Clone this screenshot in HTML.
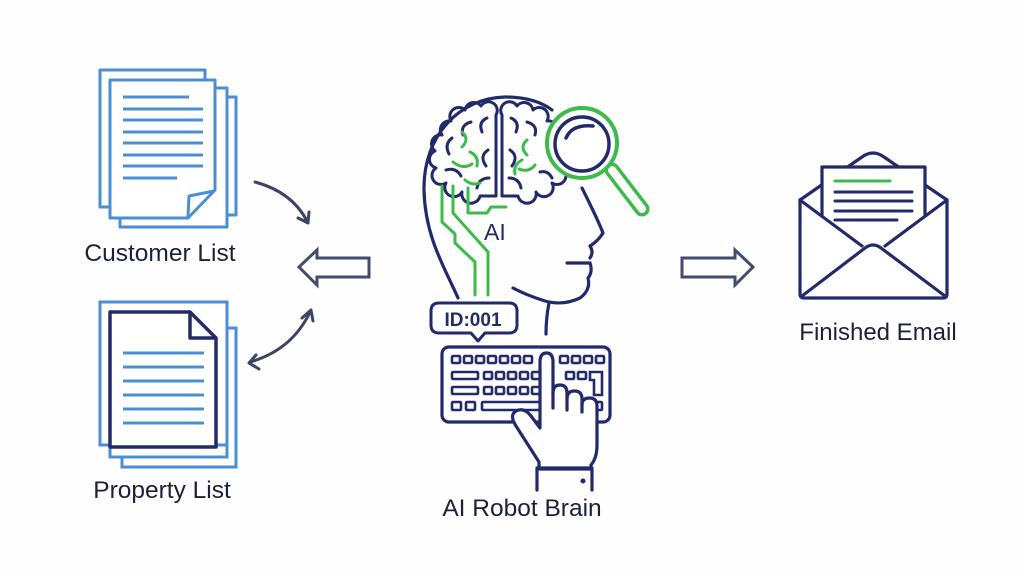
<!DOCTYPE html>
<html><head><meta charset="utf-8"><style>
html,body{margin:0;padding:0;background:#fff;}
svg{display:block;}
text{font-family:"Liberation Sans",sans-serif;}
</style></head><body>
<svg width="1024" height="576" viewBox="0 0 1024 576" xmlns="http://www.w3.org/2000/svg">
<rect width="1024" height="576" fill="#fefefe"/>

<!-- Customer List documents -->
<g fill="#fff" stroke="#4a8fd4" stroke-width="3" stroke-linejoin="round">
  <rect x="100" y="70" width="105" height="137"/>
  <rect x="132" y="97" width="104" height="118"/>
  <rect x="120" y="88" width="107" height="139"/>
  <path d="M110,80 H215 V190 L188,218 H110 Z"/>
  <path d="M188,217 L189,196 L214,191" fill="none"/>
</g>
<g stroke="#4a8fd4" stroke-width="3" stroke-linecap="butt">
  <line x1="123" y1="97" x2="189" y2="97"/>
  <line x1="123" y1="109" x2="203" y2="109"/>
  <line x1="123" y1="120" x2="203" y2="120"/>
  <line x1="123" y1="132" x2="203" y2="132"/>
  <line x1="123" y1="143" x2="203" y2="143"/>
  <line x1="123" y1="155" x2="203" y2="155"/>
  <line x1="123" y1="166" x2="203" y2="166"/>
  <line x1="123" y1="178" x2="177" y2="178"/>
</g>
<text x="160" y="261" font-size="24.5" fill="#1c2038" text-anchor="middle">Customer List</text>

<!-- Property List documents -->
<g fill="#fff" stroke="#4a8fd4" stroke-width="3">
  <rect x="122" y="328" width="114" height="139"/>
  <rect x="110" y="320" width="117" height="137"/>
  <rect x="100" y="302" width="127" height="143"/>
</g>
<g fill="#fff" stroke="#232a6b" stroke-width="3.5" stroke-linejoin="round">
  <path d="M110,312 H190 L216,338 V447 H110 Z"/>
  <path d="M190,312 V338 H216" fill="none"/>
</g>
<g stroke="#4a8fd4" stroke-width="3">
  <line x1="123" y1="353" x2="204" y2="353"/>
  <line x1="123" y1="367" x2="204" y2="367"/>
  <line x1="123" y1="381" x2="204" y2="381"/>
  <line x1="123" y1="395" x2="204" y2="395"/>
  <line x1="123" y1="409" x2="204" y2="409"/>
  <line x1="123" y1="423" x2="204" y2="423"/>
</g>
<text x="162" y="498" font-size="24.5" fill="#1c2038" text-anchor="middle">Property List</text>

<!-- curved arrows -->
<g fill="none" stroke="#3d4466" stroke-width="3" stroke-linecap="round" stroke-linejoin="round">
  <path d="M255,182 Q292,192 307,221"/>
  <path d="M298,218 L308,223 L309,212"/>
  <path d="M250,362 Q292,350 310,312"/>
  <path d="M302,318 L311,310 L313,321"/>
  <path d="M256,355 L249,363 L259,369"/>
</g>

<!-- hollow arrows -->
<g fill="#fff" stroke="#454b6c" stroke-width="3" stroke-linejoin="miter">
  <path d="M299,267 L317,250 V258 H369 V277 H317 V285 Z"/>
  <path d="M753,267 L735,250 V258 H682 V277 H735 V285 Z"/>
</g>

<!-- Head -->
<g fill="none" stroke="#232a6b" stroke-width="3.2" stroke-linecap="round" stroke-linejoin="round">
  <path d="M458,298 C446,270 425,238 424,190 C423,135 460,98 505,97 C524,97 540,101 552,110"/>
  <path d="M582,188 C590,204 598,220 603,233 Q598,241 590,246 Q594,252 590,258"/>
  <path d="M567,263 L590,263"/>
  <path d="M590,263 Q593,272 588,278 Q591,290 580,298 Q563,306 545,301 Q526,295 513,288"/>
  <path d="M549,303 Q546,318 546,334"/>
</g>

<!-- brain -->
<g fill="none" stroke="#232a6b" stroke-width="3" stroke-linecap="round" stroke-linejoin="round">
  <path d="M496,115 A8,8 0 0 0 481,106 A9,9 0 0 0 465,110 A9,9 0 0 0 451,121 A9,9 0 0 0 442,135 A9,9 0 0 0 435,151 A9,9 0 0 0 436,168 A9,9 0 0 0 446,183 A9,9 0 0 0 462,192 A9,9 0 0 0 480,196 L496,196 Z"/>
  <path d="M502,115 A8,8 0 0 1 517,106 A9,9 0 0 1 533,110 A9,9 0 0 1 547,121 A9,9 0 0 1 556,135 A9,9 0 0 1 563,151 A9,9 0 0 1 562,168 A9,9 0 0 1 552,183 A9,9 0 0 1 536,192 A9,9 0 0 1 518,196 L502,196 Z"/>
  <path d="M487,118 q-9,4 -5,14"/>
  <path d="M471,122 q-11,3 -8,13"/>
  <path d="M452,138 q-8,6 -3,16"/>
  <path d="M446,170 q10,-3 15,6"/>
  <path d="M488,150 q-9,6 -2,16"/>
  <path d="M489,178 q-10,0 -12,10"/>
  <path d="M511,118 q9,4 5,14"/>
  <path d="M527,122 q11,3 8,13"/>
  <path d="M510,150 q9,6 2,16"/>
  <path d="M509,178 q10,0 12,10"/>
  <path d="M540,172 q8,-2 12,6"/>
</g>
<g fill="none" stroke="#3dbb4a" stroke-width="3" stroke-linecap="round" stroke-linejoin="round">
  <path d="M462,132 q8,7 0,15"/>
  <path d="M470,152 q9,4 7,14"/>
  <path d="M453,162 q10,8 19,2"/>
  <path d="M465,180 q7,6 15,3"/>
  <path d="M527,140 q-8,7 0,15"/>
  <path d="M522,160 q-9,5 -7,14"/>
  <path d="M535,165 q-6,8 -16,4"/>
  <path d="M442,186 V222 L455,234 V243 L475,262 V295"/>
  <path d="M453,186 V213 L488,252 V295"/>
  <path d="M468,188 V213 H487 L491,207 H506"/>
</g>

<!-- magnifier -->
<g stroke-linecap="round">
  <path d="M612,170 L642,209" stroke="#3dbb4a" stroke-width="15"/>
  <path d="M612,170 L642,209" stroke="#fff" stroke-width="8"/>
  <circle cx="582" cy="143" r="35" fill="#fff" stroke="#3dbb4a" stroke-width="4"/>
  <circle cx="582" cy="144" r="27" fill="#fff" stroke="#232a6b" stroke-width="3.5"/>
  <path d="M566,138 Q572,124 593,126" fill="none" stroke="#232a6b" stroke-width="3.5"/>
</g>

<text x="484" y="240" font-size="23" fill="#232a6b">AI</text>

<!-- ID bubble -->
<path d="M439,303 H509 Q517,303 517,311 V325 Q517,333 509,333 H485 L478,341 L471,333 H439 Q431,333 431,325 V311 Q431,303 439,303 Z" fill="#fff" stroke="#232a6b" stroke-width="3" stroke-linejoin="round"/>
<text x="473" y="326" font-size="19" font-weight="bold" fill="#232a6b" text-anchor="middle">ID:001</text>

<!-- keyboard -->
<rect x="442" y="347" width="168" height="75" rx="7" fill="#fff" stroke="#232a6b" stroke-width="3.2"/>
<g fill="none" stroke="#232a6b" stroke-width="2.6">
  <rect x="452" y="356" width="8" height="7" rx="1"/>
  <rect x="464" y="356" width="8" height="7" rx="1"/>
  <rect x="476" y="356" width="8" height="7" rx="1"/>
  <rect x="488" y="356" width="8" height="7" rx="1"/>
  <rect x="500" y="356" width="8" height="7" rx="1"/>
  <rect x="512" y="356" width="8" height="7" rx="1"/>
  <rect x="524" y="356" width="8" height="7" rx="1"/>
  <rect x="560" y="356" width="8" height="7" rx="1"/>
  <rect x="572" y="356" width="8" height="7" rx="1"/>
  <rect x="584" y="356" width="8" height="7" rx="1"/>
  <rect x="596" y="356" width="8" height="7" rx="1"/>
  <rect x="452" y="372" width="26" height="7" rx="1"/>
  <rect x="484" y="372" width="8" height="7" rx="1"/>
  <rect x="496" y="372" width="8" height="7" rx="1"/>
  <rect x="508" y="372" width="8" height="7" rx="1"/>
  <rect x="520" y="372" width="8" height="7" rx="1"/>
  <rect x="532" y="372" width="8" height="7" rx="1"/>
  <rect x="566" y="372" width="8" height="7" rx="1"/>
  <rect x="578" y="372" width="8" height="7" rx="1"/>
  <path d="M590,372 H602 V395 H594 V380 H590 Z"/>
  <rect x="452" y="387" width="26" height="7" rx="1"/>
  <rect x="484" y="387" width="8" height="7" rx="1"/>
  <rect x="496" y="387" width="8" height="7" rx="1"/>
  <rect x="508" y="387" width="8" height="7" rx="1"/>
  <rect x="520" y="387" width="8" height="7" rx="1"/>
  <rect x="532" y="387" width="8" height="7" rx="1"/>
  <rect x="452" y="402" width="9" height="8" rx="1"/>
  <rect x="466" y="402" width="9" height="8" rx="1"/>
  <rect x="482" y="402" width="60" height="8" rx="1"/>
  <rect x="597" y="402" width="5" height="8" rx="1"/>
</g>

<!-- hand -->
<g fill="#fff" stroke="#232a6b" stroke-width="3.2" stroke-linejoin="round" stroke-linecap="round">
  <path d="M540,412 L540,362 Q540,353 546.5,353 Q553,353 553,362 L553,393 Q553,385 560,385 Q567,385 567,393 L567,399 Q567,391 574.5,391 Q582,391 582,399 L582,405 Q582,398 589.5,398 Q597,398 597,406 L597,445 Q597,458 591,465 L591,469 L539,469 L539,462 L516,426 Q509,415 516,411 Q524,407 531,416 L540,428 Z"/>
  <path d="M553,392 L553,408 M567,398 L567,410 M582,404 L582,412" fill="none"/>
  <path d="M537,490 L537,468 L592,468 L592,490" fill="none"/>
</g>
<circle cx="583" cy="481" r="2.5" fill="#232a6b"/>

<text x="522" y="516" font-size="24.5" fill="#1c2038" text-anchor="middle">AI Robot Brain</text>

<!-- envelope -->
<g fill="none" stroke="#232a6b" stroke-width="3.2" stroke-linejoin="round" stroke-linecap="round">
  <path d="M800,200 L862,157 Q873,149 884,157 L947,200" />
  <rect x="822" y="167" width="103" height="80" fill="#fff"/>
  <path d="M800,200 L862,246 L873,243 L885,246 L947,200 V298 H800 Z" fill="#fff" stroke="none"/>
  <path d="M800,200 V294 Q800,298 804,298 H943 Q947,298 947,294 V200"/>
  <path d="M800,200 L862,246"/>
  <path d="M947,200 L885,246"/>
  <path d="M802,296 L865,248 Q873,242 881,248 L945,296"/>
</g>
<line x1="835" y1="181" x2="890" y2="181" stroke="#3dbb4a" stroke-width="3" stroke-linecap="round"/>
<g stroke="#232a6b" stroke-width="3" stroke-linecap="round">
  <line x1="835" y1="192" x2="912" y2="192"/>
  <line x1="835" y1="201" x2="912" y2="201"/>
  <line x1="835" y1="211" x2="912" y2="211"/>
  <line x1="835" y1="220" x2="897" y2="220"/>
</g>
<text x="878" y="340" font-size="24" fill="#1c2038" text-anchor="middle">Finished Email</text>
</svg>
</body></html>
